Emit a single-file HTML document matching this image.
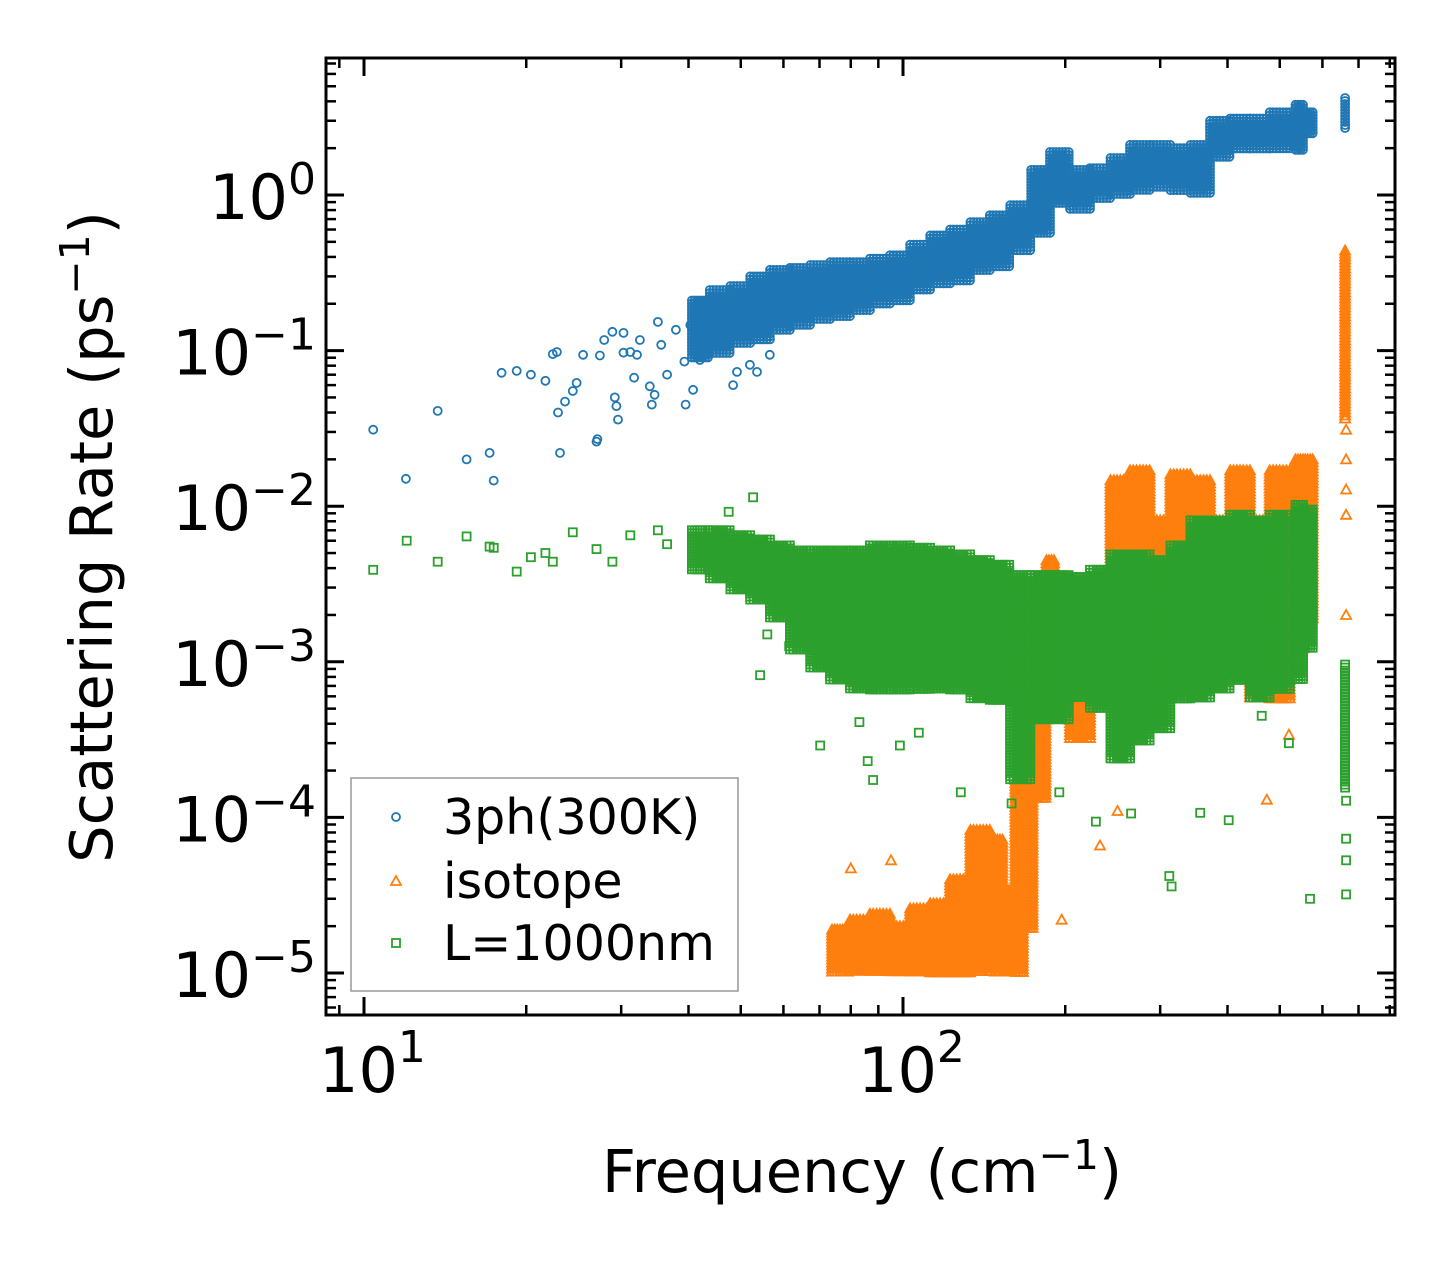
<!DOCTYPE html>
<html><head><meta charset="utf-8"><style>
html,body{margin:0;padding:0;background:#fff;}
svg{display:block;font-family:"DejaVu Sans","Liberation Sans",sans-serif;}
</style></head><body>
<svg id="chart" width="1455" height="1265" viewBox="0 0 1455 1265" xmlns="http://www.w3.org/2000/svg">
<rect width="1455" height="1265" fill="#fff"/>
<g id="marks"></g>
<g id="axes"></g>
<text x="862" y="1192" font-size="59" text-anchor="middle">Frequency (cm<tspan dy="-23" font-size="41">−1</tspan><tspan dy="23">)</tspan></text>
<text transform="translate(112,537) rotate(-90)" font-size="59" text-anchor="middle">Scattering Rate (ps<tspan dy="-23" font-size="41">−1</tspan><tspan dy="23">)</tspan></text>
<g>
<rect x="351" y="778" width="387" height="213" fill="#fff" stroke="#999" stroke-width="1.5"/>
<circle cx="396" cy="817" r="4" fill="none" stroke="#1f77b4" stroke-width="1.8"/>
<text x="443" y="834" font-size="49">3ph(300K)</text>
<polygon points="396,876 401,885 391,885" fill="none" stroke="#ff7f0e" stroke-width="1.8"/>
<text x="443" y="898" font-size="49">isotope</text>
<rect x="392" y="939" width="8" height="8" fill="none" stroke="#2ca02c" stroke-width="1.8"/>
<text x="443" y="960" font-size="49">L=1000nm</text>
</g>
</svg>
<script>
// ---- data (frequency in cm^-1, rate in ps^-1) ----
const blueScatterF = [10.4,11.96,13.7,15.5,17.1,17.4,18.0,19.2,20.4,21.7,22.4,22.8,22.9,23.1,23.6,24.4,24.8,25.5,27.0,27.1,27.4,27.9,28.9,29.2,29.4,29.6,30.3,30.3,31.2,31.7,32.1,32.5,33.9,34.2,34.6,35.1,35.6,36.5,37.9,39.3,39.5,40.3,40.8,42.0,43.1,43.8,45.7,48.4,49.2,52.0,53.6,56.6];
const blueScatterV = [0.031,0.015,0.041,0.020,0.022,0.0146,0.072,0.074,0.070,0.064,0.095,0.098,0.040,0.022,0.047,0.055,0.062,0.094,0.026,0.027,0.093,0.117,0.132,0.050,0.044,0.036,0.130,0.097,0.098,0.067,0.094,0.117,0.059,0.045,0.052,0.153,0.109,0.070,0.136,0.085,0.045,0.146,0.056,0.087,0.130,0.157,0.101,0.060,0.073,0.081,0.073,0.094];
const blueBandF = [42,45.7,49.9,54.3,59.1,64.4,70.2,76.4,83.2,90.6,98.7,107.6,117.2,127.6,139,151,165,180,195,213,232,253,275,300,327,356,387,422,459,500,546,569,664];
const blueBandLo = [0.087,0.094,0.109,0.117,0.136,0.146,0.157,0.16,0.18,0.196,0.21,0.24,0.26,0.28,0.32,0.34,0.44,0.55,0.86,0.80,0.93,1.0,1.08,1.11,1.05,1.0,1.73,1.95,1.95,1.95,1.95,2.4,2.6];
const blueBandHi = [0.21,0.245,0.26,0.30,0.33,0.34,0.355,0.37,0.37,0.39,0.41,0.48,0.55,0.60,0.67,0.74,0.86,1.45,1.89,1.45,1.49,1.73,2.1,2.1,2.0,2.1,3.0,3.1,3.1,3.4,3.8,3.4,4.2];

const orangeScatterF = [80,95,197,232,250,473,520,664,664,664,664,664];
const orangeScatterV = [0.000047,0.000053,0.000022,0.000066,0.00011,0.00013,0.00034,0.031,0.020,0.0128,0.0088,0.0020];
const orangeBandF = [76.4,83.2,90.6,98.7,107.6,117.2,127.6,139,151,157,165,172,180,188,195,213,232,253,275,300,327,356,387,422,459,500,546,569,664];
const orangeBandLo = [1e-5,1e-5,1e-5,1e-5,1e-5,1e-5,1e-5,1e-5,1e-5,1e-5,1e-5,1.9e-5,1.29e-4,0.00057,0.00042,0.00031,0.00057,0.0012,0.00186,0.0012,0.00138,0.00138,0.00138,0.00103,0.00057,0.00057,0.0012,0.00186,0.036];
const orangeBandHi = [1.9e-5,2.2e-5,2.4e-5,2.0e-5,2.6e-5,2.8e-5,4.0e-5,8.3e-5,7.2e-5,3.4e-5,1.74e-4,5.7e-4,0.0025,0.0045,0.00186,0.0034,0.0025,0.0147,0.017,0.0081,0.016,0.0147,0.0081,0.017,0.0081,0.017,0.020,0.020,0.44];

const greenScatterF = [10.4,12,13.7,15.5,17.1,17.4,19.2,20.4,21.7,22.4,24.4,27,28.9,31.2,35.1,36.5,47.5,52.7,54.3,56,61.5,70.2,83,86,88,98.7,107,128,159,168,195,228,265,312,315,356,402,463,520,569,664,664,664,664];
const greenScatterV = [0.0039,0.0060,0.0044,0.0064,0.0055,0.0054,0.0038,0.0047,0.0050,0.0044,0.0068,0.0053,0.0044,0.0065,0.0070,0.0057,0.0092,0.0114,0.00082,0.0015,0.00126,0.00029,0.00041,0.00023,0.000174,0.00029,0.00035,0.000145,0.000123,0.00023,0.000145,0.000094,0.000106,0.000042,0.000036,0.000107,0.000096,0.00045,0.00030,0.000030,0.000128,0.000073,0.000053,0.000032];
const greenBandF = [42,45.7,49.9,54.3,59.1,64.4,70.2,76.4,83.2,90.6,98.7,107.6,117.2,127.6,139,151,165,180,195,213,232,253,275,300,327,356,387,422,459,500,546,569,664];
const greenBandLo = [0.0039,0.0034,0.0029,0.0025,0.00186,0.0012,0.00089,0.00076,0.00066,0.00066,0.00066,0.00066,0.00066,0.00066,0.00057,0.00057,0.000174,0.00042,0.00042,0.00057,0.00049,0.00023,0.00031,0.00036,0.00057,0.00057,0.00066,0.00076,0.00057,0.00066,0.00076,0.0012,0.000152];
const greenBandHi = [0.0070,0.0070,0.0065,0.0061,0.0056,0.0052,0.0052,0.0052,0.0052,0.0056,0.0056,0.0054,0.0052,0.0049,0.0045,0.0042,0.0036,0.0036,0.0036,0.0035,0.0039,0.0049,0.0049,0.0045,0.0056,0.0081,0.0081,0.0088,0.0081,0.0088,0.0102,0.0095,0.00096];

const xTickVals = [10,100];
const xTickExp = ["1","2"];
const yTickVals = [1,0.1,0.01,0.001,0.0001,0.00001];
const yTickExp = ["0","−1","−2","−3","−4","−5"];

// ---- axes geometry ----
const L=326,R=1395,T=58,B=1015;
const X0=364, XD=539;
const Y0=195, YD=155.6;
function sx(f){return X0+(Math.log10(f)-1)*XD;}
function sy(v){return Y0-Math.log10(v)*YD;}
const NS="http://www.w3.org/2000/svg";
const marks=document.getElementById('marks');
const axes=document.getElementById('axes');
function mk(tag,attrs,parent){const e=document.createElementNS(NS,tag);for(const k in attrs)e.setAttribute(k,attrs[k]);parent.appendChild(e);return e;}

function marker(kind,x,y,g){
  let e;
  if(kind==='circle'){e=mk('circle',{cx:x.toFixed(1),cy:y.toFixed(1),r:4},g);}
  else if(kind==='tri'){e=mk('polygon',{points:`${x.toFixed(1)},${(y-5).toFixed(1)} ${(x+5).toFixed(1)},${(y+4).toFixed(1)} ${(x-5).toFixed(1)},${(y+4).toFixed(1)}`},g);}
  else {e=mk('rect',{x:(x-4).toFixed(1),y:(y-4).toFixed(1),width:8,height:8},g);}
  return e;
}
function drawSeries(name,color,kind,sf,sv,bf,blo,bhi){
  const g=mk('g',{fill:'none',stroke:color,'stroke-width':1.8},marks);
  
  
  const px=bf.map(sx);
  for(let i=0;i<bf.length;i++){
    const left=i>0?(px[i]-px[i-1])/2:8, right=i<bf.length-1?(px[i+1]-px[i])/2:8;
    let half=Math.min(left,right,10);
    if(i===bf.length-1 && bf[i]-bf[i-1]>50) half=1;
    const y1=sy(bhi[i]), y2=sy(blo[i]);
    for(let y=y1;y<=y2+0.1;y+=3){
      for(let dx=-half;dx<=half+0.1;dx+=Math.max(2.5,half/3)){
        const e=marker(kind,px[i]+dx,y,g);
        
        
      }
    }
  }
  for(let i=0;i<sf.length;i++){
    const e=marker(kind,sx(sf[i]),sy(sv[i]),g);
    
    
  }
}
drawSeries('three-phonon','#1f77b4','circle',blueScatterF,blueScatterV,blueBandF,blueBandLo,blueBandHi);
drawSeries('isotope','#ff7f0e','tri',orangeScatterF,orangeScatterV,orangeBandF,orangeBandLo,orangeBandHi);
drawSeries('boundary','#2ca02c','square',greenScatterF,greenScatterV,greenBandF,greenBandLo,greenBandHi);

// ---- frame & ticks ----
const frame=mk('rect',{x:L,y:T,width:R-L,height:B-T,fill:'none',stroke:'#000','stroke-width':3},axes);


function tick(x1,y1,x2,y2,w){mk('line',{x1,y1,x2,y2,stroke:'#000','stroke-width':w},axes);}
for(let d=0;d<3;d++){
  for(let m=1;m<10;m++){
    const f=m*Math.pow(10,d); const x=sx(f);
    if(x<L+1||x>R-1) continue;
    const len=m===1?18:10, w=m===1?3:2.5;
    tick(x,B,x,B-len,w); tick(x,T,x,T+len,w);
  }
}
for(let d=-6;d<1;d++){
  for(let m=1;m<10;m++){
    const v=m*Math.pow(10,d); const y=sy(v);
    if(y<T+1||y>B-1) continue;
    const len=m===1?18:10, w=m===1?3:2.5;
    tick(L,y,L+len,y,w); tick(R,y,R-len,y,w);
  }
}
xTickVals.forEach((v,i)=>{
  const t=mk('text',{x:sx(v)-45,y:1092,'font-size':62},axes);
  
  
  t.innerHTML='10<tspan dy="-30" font-size="44">'+xTickExp[i]+'</tspan>';
});
yTickVals.forEach((v,i)=>{
  const y=sy(v);
  const t=mk('text',{x:316,y:y+24,'font-size':62,'text-anchor':'end'},axes);
  
  
  t.innerHTML='10<tspan dy="-25" font-size="44">'+yTickExp[i]+'</tspan>';
});
</script>
</body></html>
